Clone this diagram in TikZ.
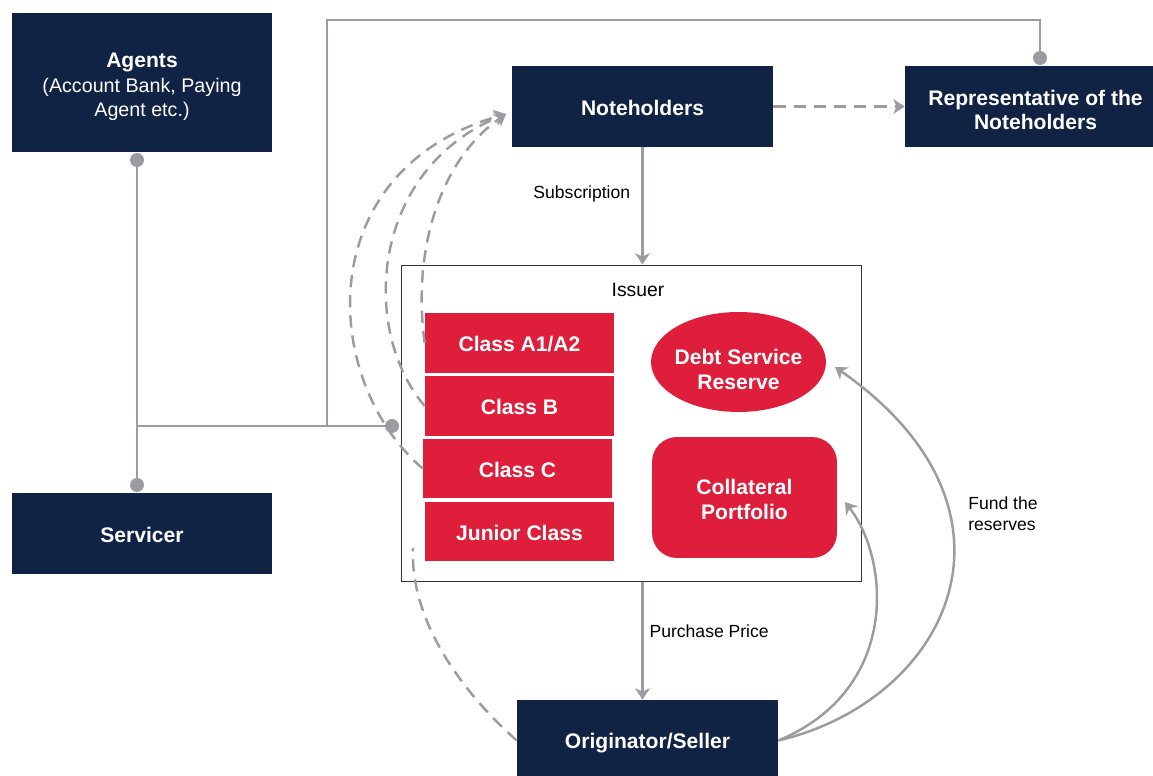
\documentclass[tikz,border=0pt]{standalone}
\usepackage{fontspec}
\setmainfont{Liberation Sans}
\usepackage{tikz}
\usetikzlibrary{arrows.meta, positioning, calc, shapes}
\usepackage{xcolor}
\definecolor{navy}{RGB}{16,35,69}
\definecolor{deepred}{RGB}{222,30,58}
\definecolor{linegray}{RGB}{155,156,161}
% strut that pushes a node's text down a little
\newcommand{\topstrut}[1]{\rule{0pt}{#1}}
\newcommand{\plain}{\mdseries\fontsize{11.2}{14.2}\selectfont}

\begin{document}
\begin{tikzpicture}[x=0.02cm, y=-0.02cm,
  navybox/.style={fill=navy, text=white, align=center, inner sep=0pt,
    font=\bfseries\fontsize{12}{14}\selectfont},
  redbox/.style={fill=deepred, text=white, align=center, inner sep=0pt,
    minimum width=3.78cm, minimum height=1.2cm,
    font=\bfseries\fontsize{12}{14}\selectfont},
  link/.style={draw=linegray, line width=1.4pt},
  dashlink/.style={link, dash pattern=on 7pt off 4.5pt},
  arrowtip/.style={-{Stealth[length=6.5pt, width=8.5pt, inset=2pt]}},
  dotfill/.style={fill=linegray},
  lbl/.style={font=\fontsize{10}{12}\selectfont, align=left}]
  \useasboundingbox (0,0) rectangle (1153,776);

  % parties
  \node[navybox, minimum width=5.2cm, minimum height=2.78cm] (agents) at (142,82.5)
    {\topstrut{13.2pt}Agents\\ \plain (Account Bank, Paying\\ \plain Agent etc.)};
  \node[navybox, minimum width=5.22cm, minimum height=1.62cm] (notes) at (642.5,106.5) {\topstrut{10.8pt}Noteholders};
  \node[navybox, minimum width=5.22cm, minimum height=1.62cm] (rep) at (1035.5,106.5) {\topstrut{12.6pt}Representative of the\\ Noteholders};
  \node[navybox, minimum width=5.2cm, minimum height=1.62cm] (servicer) at (142,533.5) {\topstrut{10.8pt}Servicer};
  \node[navybox, minimum width=5.22cm, minimum height=1.62cm] (orig) at (647.5,740.5) {\topstrut{11.6pt}Originator/Seller};

  % issuer and its notes
  \node[draw=black!80, line width=0.6pt, minimum width=9.22cm, minimum height=6.34cm] (issuer) at (631.5,423.5) {};
  \node[font=\fontsize{11}{13}\selectfont] (issuerlbl) at (638,290) {Issuer};
  \foreach \n/\x/\y/\t in {classa/519.5/343/{Class A1/A2}, classb/519.5/406/{Class B},
      classc/517.5/468.5/{Class C}, junior/519.5/531.5/{Junior Class}}
    \node[redbox] (\n) at (\x,\y) {\topstrut{10.2pt}\t};
  \node[redbox, ellipse, minimum width=3.5cm, minimum height=2cm] (dsr) at (738.5,362)
    {\topstrut{17.1pt}\makebox[2cm]{Debt Service}\\ \makebox[2cm]{Reserve}};
  \node[redbox, rounded corners=0.5cm, minimum width=3.7cm, minimum height=2.42cm] (collat) at (744.5,497.5)
    {\topstrut{10.9pt}Collateral\\ Portfolio};

  % tree of solid links with dots
  \coordinate (agdot) at (137,160);
  \coordinate (svdot) at (137,485);
  \coordinate (isdot) at (392,426);
  \coordinate (rpdot) at (1040,58);
  \coordinate (join) at (327,426);
  \draw[link] (agdot) -- (svdot);
  \draw[link] (137,426) -- (isdot);
  \draw[link] (rpdot) |- (327,20) -- (join);
  \foreach \c in {agdot, svdot, isdot, rpdot}
    \fill[dotfill] (\c) circle (7);

  % flows
  \draw[link, arrowtip] (notes.south) -- (notes.south |- issuer.north)
    node[lbl, pos=0.4, left=3pt] (sub) {Subscription};
  \draw[link, arrowtip] (issuer.south -| notes.south) -- (notes.south |- orig.north)
    node[lbl, pos=0.42, right=0pt] (pp) {Purchase Price};
  \draw[dashlink, arrowtip] (notes) -- (rep);
  \coordinate (nin) at (506,114);
  \draw[dashlink, arrowtip] (classa.west) .. controls (412,250) and (440,160) .. (nin);
  \draw[dashlink, arrowtip] (classb.west) .. controls (360,330) and (370,170) .. (nin);
  \draw[dashlink, arrowtip] (classc.west) .. controls (320,380) and (310,170) .. (nin);
  \coordinate (jin) at (413,548);
  \draw[dashlink] (orig.west) .. controls (460,690) and (410,620) .. (jin);
  \coordinate (cin) at (845,502);
  \coordinate (din) at (835,367);
  \draw[link, arrowtip] (orig.east) .. controls (900,690) and (890,560) .. (cin);
  \draw[link, arrowtip] (orig.east) .. controls (950,700) and (1040,510) .. (din);
  \node[lbl] (fund) at (1003,514) {Fund the\\ reserves};
\end{tikzpicture}
\end{document}
